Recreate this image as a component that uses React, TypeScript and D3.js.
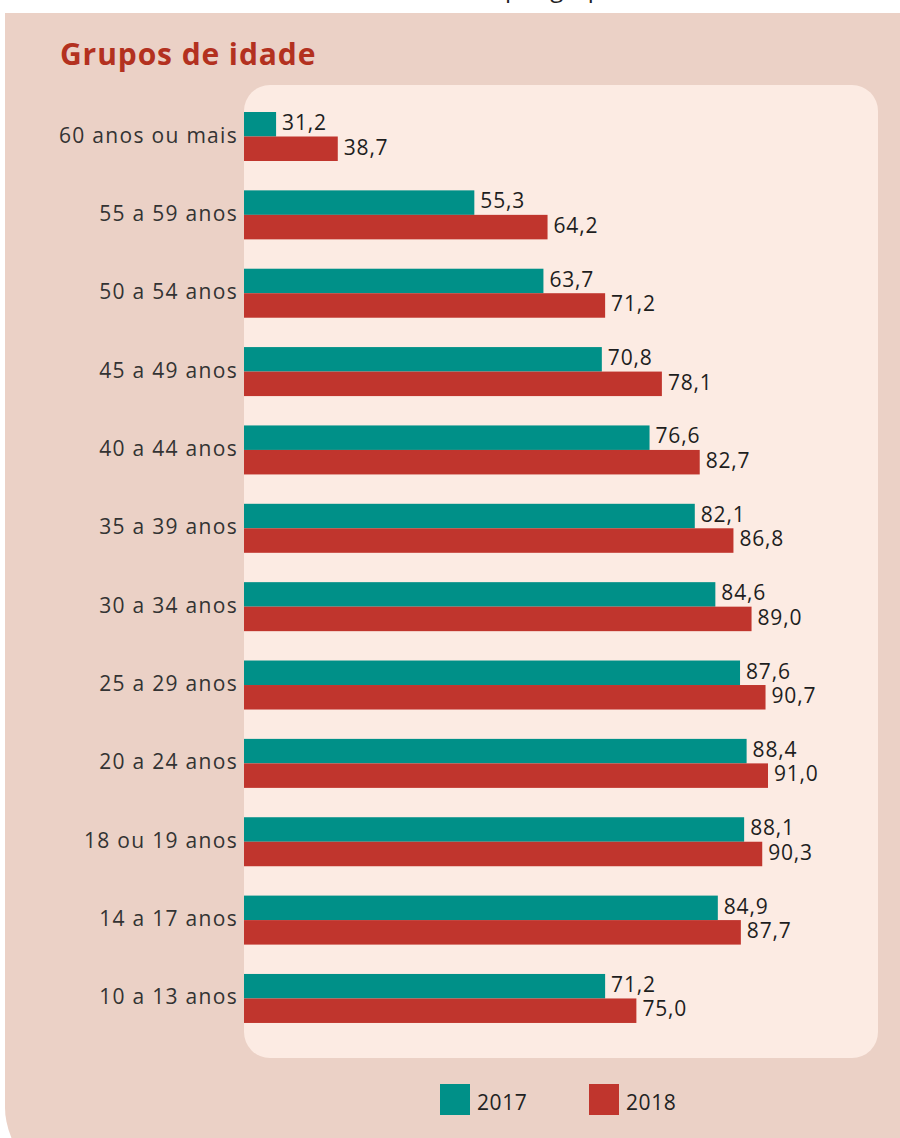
import React from 'react';
import * as d3 from 'd3';

// age groups, top to bottom
const groups = [
  '60 anos ou mais', '55 a 59 anos', '50 a 54 anos', '45 a 49 anos',
  '40 a 44 anos', '35 a 39 anos', '30 a 34 anos', '25 a 29 anos',
  '20 a 24 anos', '18 ou 19 anos', '14 a 17 anos', '10 a 13 anos'
];
const values2017 = [31.2, 55.3, 63.7, 70.8, 76.6, 82.1, 84.6, 87.6, 88.4, 88.1, 84.9, 71.2];
const values2018 = [38.7, 64.2, 71.2, 78.1, 82.7, 86.8, 89.0, 90.7, 91.0, 90.3, 87.7, 75.0];
const years = ['2017', '2018'];

const TEAL = '#009088';
const RED = '#C0352D';
const OUTER = '#EBD1C6';
const INNER = '#FCEBE3';
const FONT = '"Open Sans", "Noto Sans", sans-serif';

const fmt = (v: number) => v.toFixed(1).replace('.', ',');

export default function App() {
  const W = 900, H = 1138;
  const step = 78.36, band = 49;

  const x = d3.scaleLinear().domain([27.3, 91]).range([244, 768]);
  const y = d3.scaleBand().domain(groups)
    .range([112, 112 + step * (groups.length - 1) + band])
    .paddingInner((step - band) / step).paddingOuter(0);
  const barH = y.bandwidth() / 2;
  const color = d3.scaleOrdinal<string>().domain(years).range([TEAL, RED]);

  return (
    <svg width={W} height={H} style={{ position: 'absolute', left: 0, top: 0, display: 'block' }}>
      <rect x={0} y={0} width={W} height={H} fill="#fff" />
      {/* heading above, cut off by the page edge as in the source */}
      <text x={505} y={-3} fontFamily={FONT} fontSize={24} fill="#222">por grupos de idade</text>
      {/* outer panel */}
      <path d={`M5,13 H${W + 40} V${H + 40} H35 Q5,${H} 5,${H - 30} Z`} fill={OUTER} />
      <text x={60} y={65} fontFamily={FONT} fontWeight={700} fontSize={30} fill="#B3311F" letterSpacing={0.9}>Grupos de idade</text>
      {/* inner panel */}
      <rect x={244} y={85} width={634} height={973} rx={26} ry={26} fill={INNER} />
      {groups.map((g, i) => {
        const y0 = y(g)!;
        const vals = [values2017[i], values2018[i]];
        return (
          <g key={g}>
            <text x={238} y={y0 + barH + 6} textAnchor="end" fontFamily={FONT} fontSize={21} letterSpacing={1.3} fill="#333">{g}</text>
            {vals.map((v, k) => (
              <g key={k}>
                <rect x={x.range()[0]} y={y0 + k * barH} width={x(v) - x.range()[0]} height={barH} fill={color(years[k])} />
                <text x={x(v) + 6} y={y0 + k * barH + 18} fontFamily={FONT} fontSize={21} letterSpacing={0.8} fill="#1e1e1e">{fmt(v)}</text>
              </g>
            ))}
          </g>
        );
      })}
      {/* legend */}
      {years.map((yr, k) => (
        <g key={yr} transform={`translate(${440 + k * 149},1084)`}>
          <rect x={0} y={0} width={30} height={31} fill={color(yr)} />
          <text x={37} y={26} fontFamily={FONT} fontSize={21} letterSpacing={0.6} fill="#222">{yr}</text>
        </g>
      ))}
    </svg>
  );
}
